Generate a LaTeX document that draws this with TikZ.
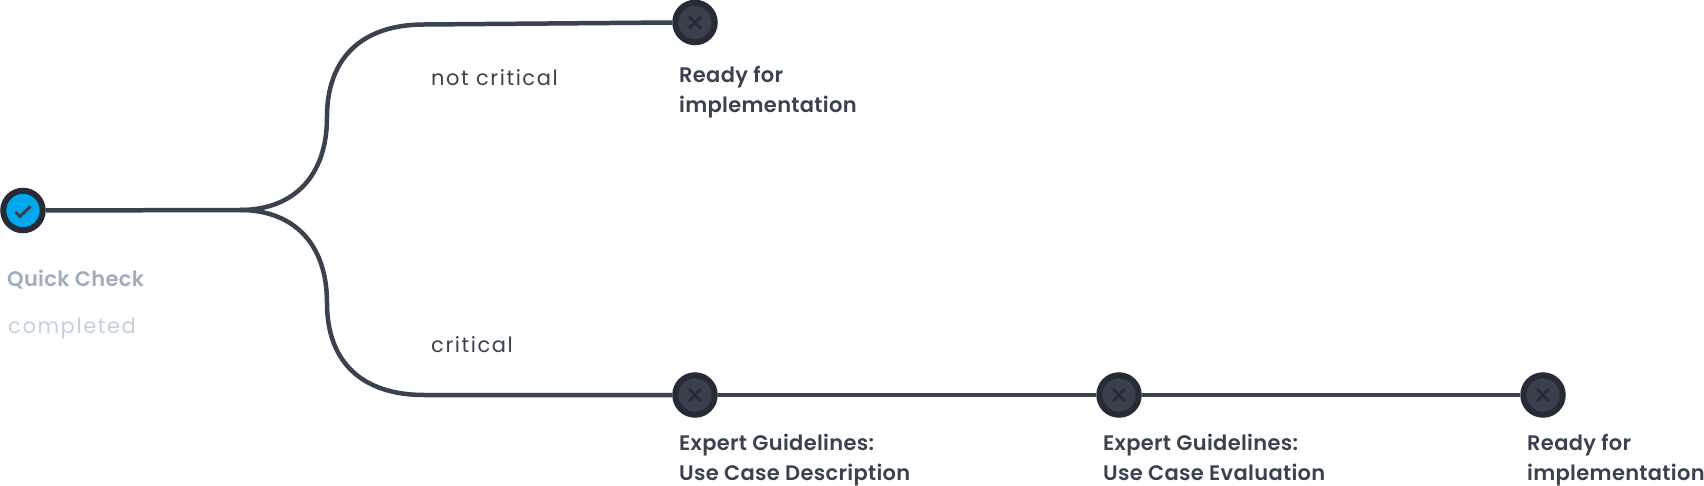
\documentclass[tikz,border=0pt]{standalone}
\usepackage{fontspec}
\setmainfont{Poppins}[BoldFont={Poppins SemiBold}]
\usetikzlibrary{positioning, calc}
\definecolor{ringdark}{HTML}{272B36}
\definecolor{innerdark}{HTML}{3A414C}
\definecolor{linedark}{HTML}{3A424E}
\definecolor{donefill}{HTML}{00A9EE}
\definecolor{donehead}{HTML}{9FADBD}
\definecolor{donesub}{HTML}{C5D0DB}

\begin{document}
\begin{tikzpicture}[
    x=1pt, y=-1pt, on grid,
    % Node styles
    donenode/.style={
        circle, draw=ringdark, line width=6pt, fill=donefill,
        minimum size=39.5pt, inner sep=0pt
    },
    opennode/.style={
        circle, draw=ringdark, line width=6pt, fill=innerdark,
        minimum size=39.5pt, inner sep=0pt,
        path picture={
            \draw[ringdark, line width=2.6pt]
                ($(path picture bounding box.center)+(-6,-6)$) -- ($(path picture bounding box.center)+(6,6)$)
                ($(path picture bounding box.center)+(-6,6)$) -- ($(path picture bounding box.center)+(6,-6)$);
        }
    },
    branch/.style={
        draw=linedark, line width=4.5pt
    },
    steplabel/.style={
        font=\fontsize{21}{30}\selectfont\bfseries\addfontfeatures{LetterSpace=1.5}, text=linedark,
        align=left, anchor=base west, inner sep=0pt
    },
    edgelabel/.style={
        font=\fontsize{21}{24}\selectfont\addfontfeatures{LetterSpace=7.5}, text=linedark,
        anchor=base west, inner sep=0pt
    }
]
\useasboundingbox (0,0) rectangle (1704,486);

% --- Nodes ---
\node[donenode] (start) at (23,210.5) {};
\node[opennode] (top) at (695,22.5) {};
\node[opennode] (guide1) at (695,395) {};
\node[opennode, right=424pt of guide1] (guide2) {};
\node[opennode, right=424pt of guide2] (ready) {};

% --- Branches ---
\coordinate (fork) at (240,210);
\coordinate (upmid) at (327,117);
\coordinate (upend) at (424,24.5);
\coordinate (lowmid) at (327,303);
\coordinate (lowend) at (424,395);

\draw[branch] (start.east) -- (fork)
    .. controls (292,210) and (327,178) .. (upmid)
    .. controls (327,58) and (362,24.5) .. (upend) -- (top.west);
\draw[branch] (fork)
    .. controls (292,210) and (327,242) .. (lowmid)
    .. controls (327,362) and (362,395) .. (lowend) -- (guide1.west);
\draw[branch] (guide1) -- (guide2);
\draw[branch] (guide2) -- (ready);

% --- Check mark ---
\draw[linedark, line width=3pt] ($(start)+(-7.5,1.5)$) -- ($(start)+(-3,6)$) -- ($(start)+(7.5,-4)$);

% --- Labels ---
\node[steplabel, text=donehead] (startname) at (7,287) {Quick Check};
\node[edgelabel, text=donesub] (startstate) at (8,333) {completed};
\node[edgelabel] (notcrit) at (431,86) {not critical};
\node[edgelabel] (crit) at (431,352) {critical};
\node[steplabel] (topname) at (679,113) {Ready for\\implementation};
\node[steplabel] (guide1name) at (679,480) {Expert Guidelines:\\Use Case Description};
\node[steplabel] (guide2name) at (1103,480) {Expert Guidelines:\\Use Case Evaluation};
\node[steplabel] (readyname) at (1527,480) {Ready for\\implementation};

\end{tikzpicture}
\end{document}
